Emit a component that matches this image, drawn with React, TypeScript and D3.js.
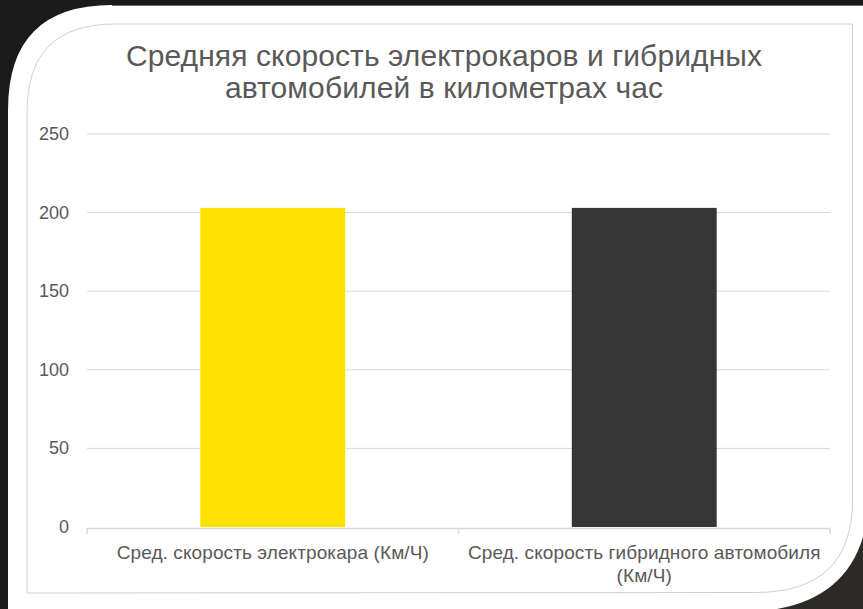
import React from "react";
import * as d3 from "d3";

const titleLines = ["Средняя скорость электрокаров и гибридных", "автомобилей в километрах час"];
const categories = ["Сред. скорость электрокара (Км/Ч)", "Сред. скорость гибридного автомобиля (Км/Ч)"];
const categoryLines = [["Сред. скорость электрокара (Км/Ч)"], ["Сред. скорость гибридного автомобиля", "(Км/Ч)"]];
const values = [203, 203];
const barColors = ["#FFE000", "#363636"];
const yTicks = [0, 50, 100, 150, 200, 250];

const W = 863;
const H = 609;
const FONT = "'Liberation Sans', Arial, sans-serif";

export default function App() {
  const x = d3.scaleBand<string>().domain(categories).range([87, 830]).paddingInner(0.61).paddingOuter(0.305);
  const y = d3.scaleLinear().domain([0, 250]).range([527, 134]);

  const whitePath = "M8,609 V110 Q8,5 112,5 H863 V537 Q845,597 777,609 Z";
  const borderPath = "M27,593 V112 Q27,24 115,24 H852.5 V500 Q852.5,592.5 755,592.5 Z";

  return (
    <div style={{ position: "fixed", left: 0, top: 0 }}>
      <svg width={W} height={H} style={{ display: "block" }}>
        <rect x={0} y={0} width={W} height={H} fill="#1b1b1b" />
        <rect x={600} y={400} width={263} height={209} fill="#2c2b27" />
        <path d={whitePath} fill="#ffffff" />
        <line x1={112} x2={863} y1={5.5} y2={5.5} stroke="#6a6a6a" strokeWidth={1} />
        <path d={borderPath} fill="none" stroke="#d0d0d0" strokeWidth={1} />
        {titleLines.map((t, i) => (
          <text key={i} x={444} y={66 + i * 32} textAnchor="middle" fontFamily={FONT} fontSize={30} letterSpacing={0.1} fill="#595959">
            {t}
          </text>
        ))}
        {yTicks.map((t) => (
          <g key={t}>
            {t > 0 && <line x1={87} x2={830} y1={y(t)} y2={y(t)} stroke="#d9d9d9" strokeWidth={1} />}
            <text x={69} y={y(t) + 6} textAnchor="end" fontFamily={FONT} fontSize={18} fill="#595959">
              {t}
            </text>
          </g>
        ))}
        {categories.map((c, i) => (
          <rect key={c} x={x(c)} y={y(values[i])} width={x.bandwidth()} height={y(0) - y(values[i])} fill={barColors[i]} />
        ))}
        <line x1={87} x2={830} y1={528.5} y2={528.5} stroke="#d9d9d9" strokeWidth={1.5} />
        {[87, 458.5, 830].map((tx) => (
          <line key={tx} x1={tx} x2={tx} y1={528} y2={534} stroke="#d9d9d9" strokeWidth={1.5} />
        ))}
        {categories.map((c, i) => (
          <g key={"l" + c}>
            {categoryLines[i].map((ln, j) => (
              <text key={j} x={(x(c) as number) + x.bandwidth() / 2} y={559 + j * 23} textAnchor="middle" fontFamily={FONT} fontSize={19} letterSpacing={0.1} fill="#595959">
                {ln}
              </text>
            ))}
          </g>
        ))}
      </svg>
    </div>
  );
}
